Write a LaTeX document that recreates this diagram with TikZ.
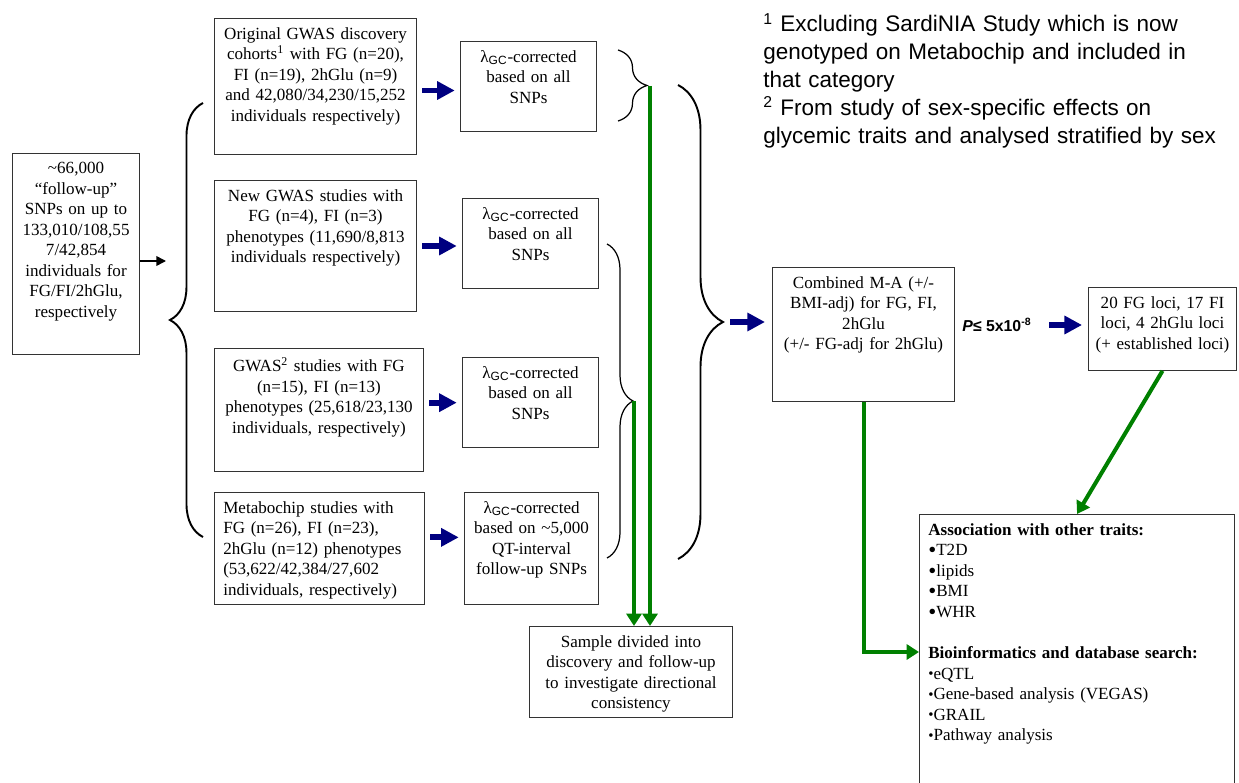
\documentclass[tikz,border=0pt]{standalone}
\usepackage{fontspec}
\setmainfont{Liberation Serif}
\setsansfont{Liberation Sans}
\usetikzlibrary{arrows.meta, decorations.pathreplacing, calc}

\definecolor{arrowblue}{RGB}{0,0,128}
\definecolor{arrowgreen}{RGB}{0,128,0}
\newcommand{\bigdot}{{\fontsize{13}{6}\selectfont\raisebox{-1.2pt}{•}}}
\newcommand{\smalldot}{{\fontsize{8.5}{6}\selectfont\raisebox{0.3pt}{•}}}

\tikzset{%
  % Specifications for style of nodes:
         box/.style   = { rectangle, draw = black!80, line width=0.6pt, fill=white, anchor=north west, align=center, inner xsep=2pt, inner ysep=5pt, font=\fontsize{9.7}{11.7}\selectfont },
         lbox/.style  = { box, align=left, inner xsep=5pt },
         note/.style  = { anchor=base west, align=left, inner sep=0pt, font=\sffamily\fontsize{12.8}{15.8}\selectfont },
  % Specifications for style of arrows and braces:
         bluearrow/.style  = { -{Triangle[length=10pt, width=10pt]}, line width=3.4pt, draw=arrowblue },
         greenarrow/.style = { -{Triangle[length=7pt, width=8.5pt]}, line width=2.3pt, draw=arrowgreen },
         blackarrow/.style = { -{Triangle[length=5.5pt, width=5.5pt]}, line width=0.9pt },
         bigbrace/.style   = { decorate, decoration={brace, amplitude=#1}, line width=1.1pt },
         smallbrace/.style = { decorate, decoration={brace, amplitude=#1}, line width=0.7pt },
}

\begin{document}
\begin{tikzpicture}[x=0.02cm, y=-0.02cm]
    \useasboundingbox (0,0) rectangle (1239,783);

    % Draw nodes
    \node (src)    [box, text width=68.3pt, text depth=98.2pt] at (12,153) {\textasciitilde 66,000\\“follow-up”\\SNPs on up to\\133,010/108,55\\7/42,854\\individuals for\\FG/FI/2hGlu,\\respectively};

    \node (orig)   [box, text width=111pt, text depth=60.6pt] at (214,18) {Original GWAS discovery\\cohorts\textsuperscript{1} with FG (n=20),\\FI (n=19), 2hGlu (n=9)\\and 42,080/34,230/15,252\\individuals respectively)};
    \node (newgwas) [box, text width=111pt, text depth=57.8pt] at (214,180) {New GWAS studies with\\FG (n=4), FI (n=3)\\phenotypes (11,690/8,813\\individuals respectively)};
    \node (sexgwas) [box, text width=114.9pt, text depth=52.1pt] at (214,348) {GWAS\textsuperscript{2} studies with FG\\(n=15), FI (n=13)\\phenotypes (25,618/23,130\\individuals, respectively)};
    \node (metabo) [lbox, text width=109.5pt, text depth=46.9pt] at (214,492) {Metabochip studies with\\FG (n=26), FI (n=23),\\2hGlu (n=12) phenotypes\\(53,622/42,384/27,602\\individuals, respectively)};

    \node (gc_1)   [box, text width=73.4pt, text depth=34.4pt] at (460,41) {λ\textsubscript{\sffamily GC}-corrected\\based on all\\SNPs};
    \node (gc_2)   [box, text width=73.4pt, text depth=34.4pt] at (462,198) {λ\textsubscript{\sffamily GC}-corrected\\based on all\\SNPs};
    \node (gc_3)   [box, text width=73.4pt, text depth=34.4pt] at (462,357) {λ\textsubscript{\sffamily GC}-corrected\\based on all\\SNPs};
    \node (gc_4)   [box, text width=72.3pt, text depth=46.9pt] at (464,492) {λ\textsubscript{\sffamily GC}-corrected\\based on \textasciitilde 5,000\\QT-interval\\follow-up SNPs};

    \node (sample) [box, text width=111.5pt, text depth=35pt] at (529,626) {Sample divided into\\discovery and follow-up\\to investigate directional\\consistency};
    \node (comb)   [box, text width=99.6pt, text depth=59.5pt] at (772,267) {Combined M-A (+/-\\BMI-adj) for FG, FI,\\2hGlu\\(+/- FG-adj for 2hGlu)};
    \node (pval)   [inner sep=0pt, font=\sffamily\bfseries\fontsize{9}{10}\selectfont] at (997,325) {\textit{P}≤ 5x10\textsuperscript{-8}};
    \node (loci)   [box, text width=80.2pt, text depth=30.4pt] at (1088,287) {20 FG loci, 17 FI\\loci, 4 2hGlu loci\\(+ established loci)};
    \node (assoc)  [lbox, text width=169.3pt, text depth=146pt] at (919,514) {\textbf{Association with other traits:}\\\bigdot T2D\\\bigdot lipids\\\bigdot BMI\\\bigdot WHR\\[11.7pt]\textbf{Bioinformatics and database search:}\\\smalldot eQTL\\\smalldot Gene-based analysis (VEGAS)\\\smalldot GRAIL\\\smalldot Pathway analysis};

    \node (fn)     [note, text width=270pt] at (763,32) {\textsuperscript{1} Excluding SardiNIA Study which is now\\genotyped on Metabochip and included in\\that category\\\textsuperscript{2} From study of sex-specific effects on\\glycemic traits and analysed stratified by sex};

    % Draw braces
    \draw[bigbrace=18.8pt]   (203,537) -- (203,103);
    \draw[smallbrace=16.5pt] (618,50) -- (618,121);
    \draw[smallbrace=14.8pt] (607,244) -- (607,558);
    \draw[bigbrace=25.6pt]   (678,85) -- (678,559);
    \coordinate (lin)  at (166,261);
    \coordinate (stip) at (650,86);
    \coordinate (mtip) at (634,401);
    \coordinate (btip) at (723,322);

    % Draw arrows
    \draw[blackarrow]   (src.east |- lin) -- (lin);
    \draw[bluearrow, shorten <=3pt, shorten >=3pt] ([yshift=-2.3pt]orig.east) -- ([yshift=-2.3pt]orig.east -| gc_1.west);
    \draw[bluearrow, shorten <=3pt, shorten >=3pt] (newgwas.east) -- (newgwas.east -| gc_2.west);
    \draw[bluearrow, shorten <=3pt, shorten >=3pt] ([yshift=4.3pt]sexgwas.east) -- ([yshift=4.3pt]sexgwas.east -| gc_3.west);
    \draw[bluearrow, shorten <=3pt, shorten >=3pt] ([yshift=6.3pt]metabo.east) -- ([yshift=6.3pt]metabo.east -| gc_4.west);
    \draw[bluearrow, shorten <=4pt, shorten >=4pt] (btip) -- (btip -| comb.west);
    \draw[bluearrow, shorten <=10pt, shorten >=3.4pt] (pval.east) -- (pval.east -| loci.west);

    \draw[greenarrow]   (stip) -- (stip |- sample.north);
    \draw[greenarrow]   (mtip) -- (mtip |- sample.north);
    \draw[greenarrow]   (comb.south) |- ($(assoc.north west)+(0,138)$);
    \draw[greenarrow]   (loci.south) -- (assoc.north);
\end{tikzpicture}
\end{document}
